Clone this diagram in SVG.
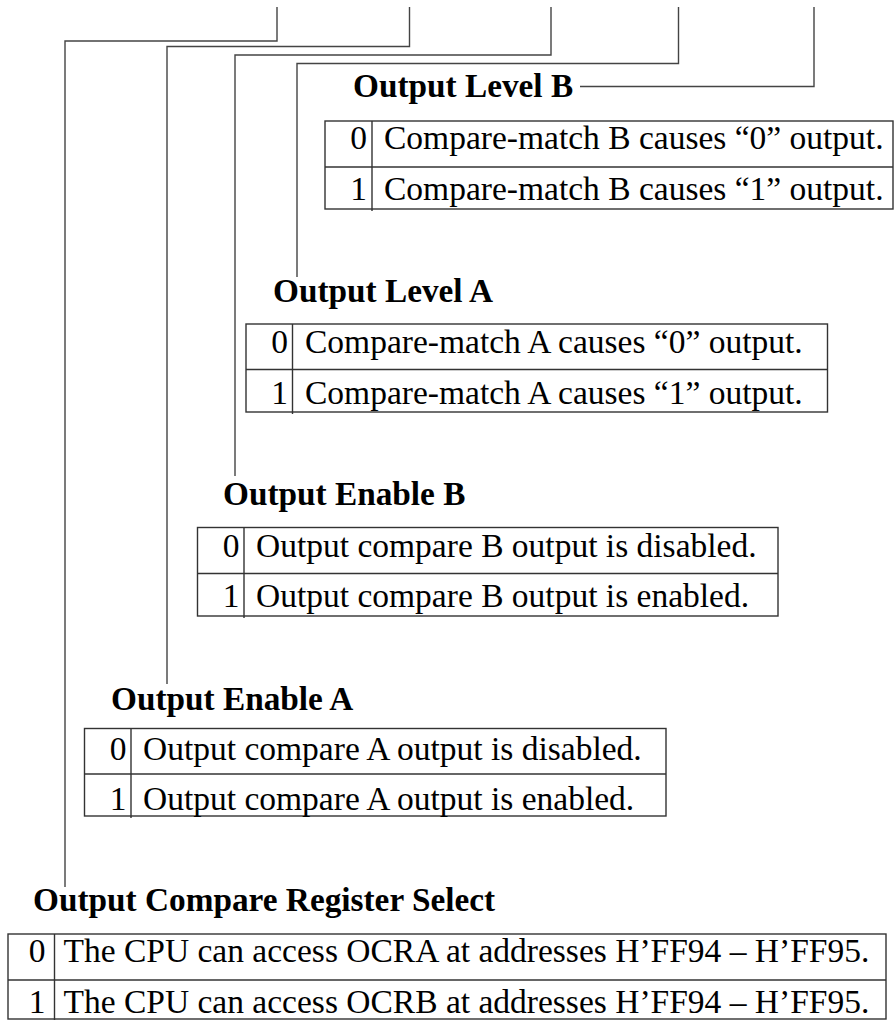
<svg xmlns="http://www.w3.org/2000/svg" width="895" height="1020" viewBox="0 0 895 1020">
<style>
.bg{fill:#fff}
.title{font-family:"Liberation Serif","Times New Roman",serif;font-weight:bold;font-size:33.3px;fill:#000}
.txt{font-family:"Liberation Serif","Times New Roman",serif;font-size:33.5px;fill:#000}
.num{font-family:"Liberation Serif","Times New Roman",serif;font-size:33.5px;fill:#000;text-anchor:end}
.tbl{fill:none;stroke:#333;stroke-width:1.4}
.conn{fill:none;stroke:#444;stroke-width:1.4}
</style>
<rect class="bg" x="0" y="0" width="895" height="1020"/>
<g id="connectors">
<path class="conn" d="M277,7 V41 H65 V887"/>
<path class="conn" d="M409.5,7 V46.5 H167 V684"/>
<path class="conn" d="M551,7 V55 H235 V476"/>
<path class="conn" d="M678.5,7 V63.5 H297 V277"/>
<path class="conn" d="M814,7 V86.5 H580"/>
</g>
<g id="output-level-b">
<text class="title" x="353" y="97">Output Level B</text>
<rect class="tbl" x="325" y="121" width="568" height="88"/>
<line class="tbl" x1="325" y1="167" x2="893" y2="167"/>
<line class="tbl" x1="372" y1="121" x2="372" y2="211"/>
<text class="num" x="367" y="148.5">0</text>
<text class="txt" x="384" y="148.5">Compare-match B causes “0” output.</text>
<text class="num" x="367" y="199.5">1</text>
<text class="txt" x="384" y="199.5">Compare-match B causes “1” output.</text>
</g>
<g id="output-level-a">
<text class="title" x="273" y="302">Output Level A</text>
<rect class="tbl" x="246" y="324" width="581.5" height="88"/>
<line class="tbl" x1="246" y1="369.5" x2="827.5" y2="369.5"/>
<line class="tbl" x1="292.5" y1="324" x2="292.5" y2="414"/>
<text class="num" x="288" y="353">0</text>
<text class="txt" x="305" y="353">Compare-match A causes “0” output.</text>
<text class="num" x="288" y="404">1</text>
<text class="txt" x="305" y="404">Compare-match A causes “1” output.</text>
</g>
<g id="output-enable-b">
<text class="title" x="223" y="505">Output Enable B</text>
<rect class="tbl" x="197.5" y="527.5" width="580.5" height="88.5"/>
<line class="tbl" x1="197.5" y1="573.5" x2="778" y2="573.5"/>
<line class="tbl" x1="244" y1="527.5" x2="244" y2="618"/>
<text class="num" x="239.5" y="556.5">0</text>
<text class="txt" x="256" y="556.5">Output compare B output is disabled.</text>
<text class="num" x="239.5" y="606.5">1</text>
<text class="txt" x="256" y="606.5">Output compare B output is enabled.</text>
</g>
<g id="output-enable-a">
<text class="title" x="111" y="709.5">Output Enable A</text>
<rect class="tbl" x="84.5" y="728.5" width="581.5" height="87.5"/>
<line class="tbl" x1="84.5" y1="774" x2="666" y2="774"/>
<line class="tbl" x1="131" y1="728.5" x2="131" y2="818"/>
<text class="num" x="126.5" y="760">0</text>
<text class="txt" x="143" y="760">Output compare A output is disabled.</text>
<text class="num" x="126.5" y="810">1</text>
<text class="txt" x="143" y="810">Output compare A output is enabled.</text>
</g>
<g id="ocr-select">
<text class="title" x="33" y="911">Output Compare Register Select</text>
<rect class="tbl" x="8" y="934" width="878" height="85"/>
<line class="tbl" x1="8" y1="980" x2="886" y2="980"/>
<line class="tbl" x1="54.5" y1="934" x2="54.5" y2="1020"/>
<text class="num" x="45.5" y="962">0</text>
<text class="txt" x="63.5" y="962">The CPU can access OCRA at addresses H’FF94 – H’FF95.</text>
<text class="num" x="45.5" y="1013">1</text>
<text class="txt" x="63.5" y="1013">The CPU can access OCRB at addresses H’FF94 – H’FF95.</text>
</g>
</svg>
